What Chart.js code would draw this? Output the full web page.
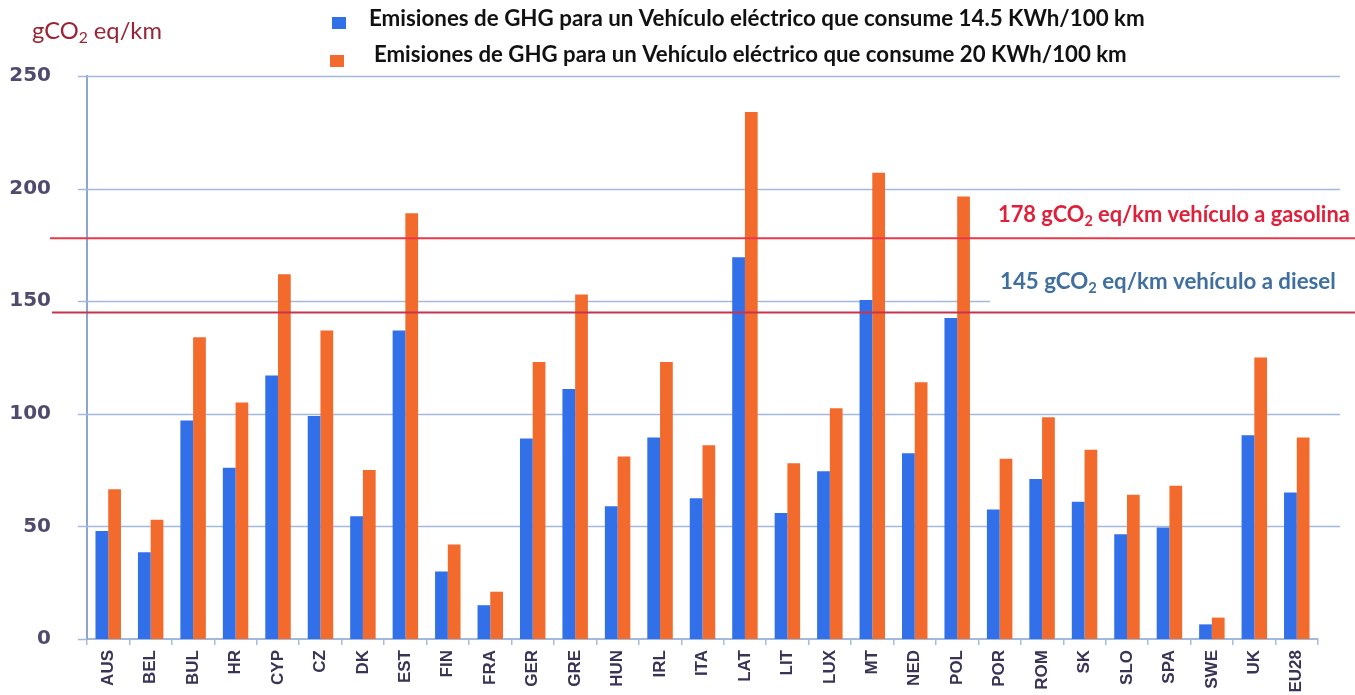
<!DOCTYPE html>
<html>
<head>
<meta charset="utf-8">
<script src="https://cdn.jsdelivr.net/npm/chart.js@4/dist/chart.umd.min.js"></script>
<style>
html,body{margin:0;padding:0;background:#fff;}
canvas{display:block;}
</style>
</head>
<body>
<canvas id="c" width="1355" height="695"></canvas>
<script>
const categories = ['AUS','BEL','BUL','HR','CYP','CZ','DK','EST','FIN','FRA','GER','GRE','HUN','IRL','ITA','LAT','LIT','LUX','MT','NED','POL','POR','ROM','SK','SLO','SPA','SWE','UK','EU28'];
const ev145Values = [48,38.5,97,76,117,99,54.5,137,30,15,89,111,59,89.5,62.5,169.5,56,74.5,150.5,82.5,142.5,57.5,71,61,46.5,49.5,6.5,90.5,65];
const ev20Values  = [66.5,53,134,105,162,137,75,189,42,21,123,153,81,123,86,234,78,102.5,207,114,196.5,80,98.5,84,64,68,9.5,125,89.5];
const seriesLabels = ['Emisiones de GHG para un Vehículo eléctrico que consume 14.5 KWh/100 km','Emisiones de GHG para un Vehículo eléctrico que consume 20 KWh/100 km'];
const yTicks = [0,50,100,150,200,250];
const refValues = [178,145];
const refLabels = [['178 gCO','2',' eq/km vehículo a gasolina'],['145 gCO','2',' eq/km vehículo a diesel']];
const yTitle = ['gCO','2',' eq/km'];

const BLUE = '#3170e8', ORANGE = '#f36a2d';

function richText(ctx, parts, x, y, family, weight, color, targetW){
  let base = 20;
  const w = (s)=>{
    let tot=0;
    parts.forEach((p,i)=>{ ctx.font = weight+' '+(i===1?s*0.66:s)+'px '+family; tot+=ctx.measureText(p).width; });
    return tot;
  };
  const size = base*targetW/w(base);
  ctx.save();
  ctx.fillStyle = color; ctx.textBaseline='alphabetic'; ctx.textAlign='left';
  let cx = x;
  const baseline = y + size*0.33;
  parts.forEach((p,i)=>{
    const s = i===1?size*0.66:size;
    ctx.font = weight+' '+s+'px '+family;
    ctx.fillText(p, cx, i===1?baseline+size*0.18:baseline);
    cx += ctx.measureText(p).width;
  });
  ctx.restore();
}
function fitText(ctx, text, x, y, family, weight, color, targetW){
  ctx.save();
  ctx.font = weight+' 20px '+family;
  const size = 20*targetW/ctx.measureText(text).width;
  ctx.font = weight+' '+size+'px '+family;
  ctx.fillStyle=color; ctx.textBaseline='middle'; ctx.textAlign='left';
  ctx.fillText(text,x,y);
  ctx.restore();
}

const overlay = {
  id:'overlay',
  beforeDatasetsDraw(chart){
    const ctx = chart.ctx, ys = chart.scales.y;
    ctx.save();
    ctx.strokeStyle = '#a3b9dc'; ctx.lineWidth = 1.5;
    yTicks.forEach(v=>{
      const y = Math.round(ys.getPixelForValue(v))+0.5;
      ctx.beginPath();
      ctx.moveTo(78,y);
      ctx.lineTo(v===0?87:(v===150?990:1340),y);
      ctx.stroke();
    });
    ctx.restore();
  },
  afterDatasetsDraw(chart){
    const ctx = chart.ctx, ys = chart.scales.y;
    ctx.save();
    const cols = ['#e8384a','#c8344c'];
    const starts = [50,52];
    refValues.forEach((v,i)=>{
      const y = ys.getPixelForValue(v);
      ctx.strokeStyle = cols[i]; ctx.lineWidth = 2;
      ctx.beginPath(); ctx.moveTo(starts[i],y); ctx.lineTo(1355,y); ctx.stroke();
    });
    ctx.restore();
  },
  afterDraw(chart){
    const ctx = chart.ctx;
    const colors = [BLUE, ORANGE];
    const sq = [[332,17],[330,55]];
    const tx = [[369,19,776],[374,55,753]];
    for(let i=0;i<2;i++){
      ctx.fillStyle = colors[i];
      ctx.fillRect(sq[i][0],sq[i][1],14,12);
      fitText(ctx, seriesLabels[i], tx[i][0], tx[i][1], 'Lato', 'bold', '#111', tx[i][2]);
    }
    richText(ctx, yTitle, 32, 31, 'Lato', 'normal', '#9a2433', 130);
    richText(ctx, refLabels[0], 998, 215, 'Lato', 'bold', '#e0203a', 352);
    richText(ctx, refLabels[1], 1000, 282, 'Lato', 'bold', '#3f6f9f', 336);
  }
};

new Chart(document.getElementById('c'), {
  type:'bar',
  data:{
    labels:categories,
    datasets:[
      {label:seriesLabels[0], data:ev145Values, backgroundColor:BLUE},
      {label:seriesLabels[1], data:ev20Values, backgroundColor:ORANGE}
    ]
  },
  options:{
    responsive:false, animation:false,
    layout:{padding:{top:76,right:37,left:0,bottom:0}},
    datasets:{bar:{categoryPercentage:0.6, barPercentage:1}},
    plugins:{legend:{display:false}, tooltip:{enabled:false}},
    scales:{
      x:{
        grid:{display:true, drawOnChartArea:false, tickLength:6, color:'#a9bbdc', lineWidth:1.5},
        border:{display:true, color:'#a3b9dc', width:2},
        ticks:{maxRotation:90, minRotation:90, autoSkip:false, padding:5, color:'#3a3356',
               font:{family:'Liberation Sans', weight:'bold', size:17}},
        afterFit(s){ s.height = 56; }
      },
      y:{
        min:0, max:250,
        afterBuildTicks(s){ s.ticks = yTicks.map(v=>({value:v})); },
        grid:{display:false},
        border:{display:true, color:'#8ea6cf', width:2},
        ticks:{padding:28, color:'#504a6e', font:{family:'DejaVu Sans', weight:'bold', size:20}},
        afterFit(s){ s.width = 87; }
      }
    }
  },
  plugins:[overlay]
});
</script>
</body>
</html>
